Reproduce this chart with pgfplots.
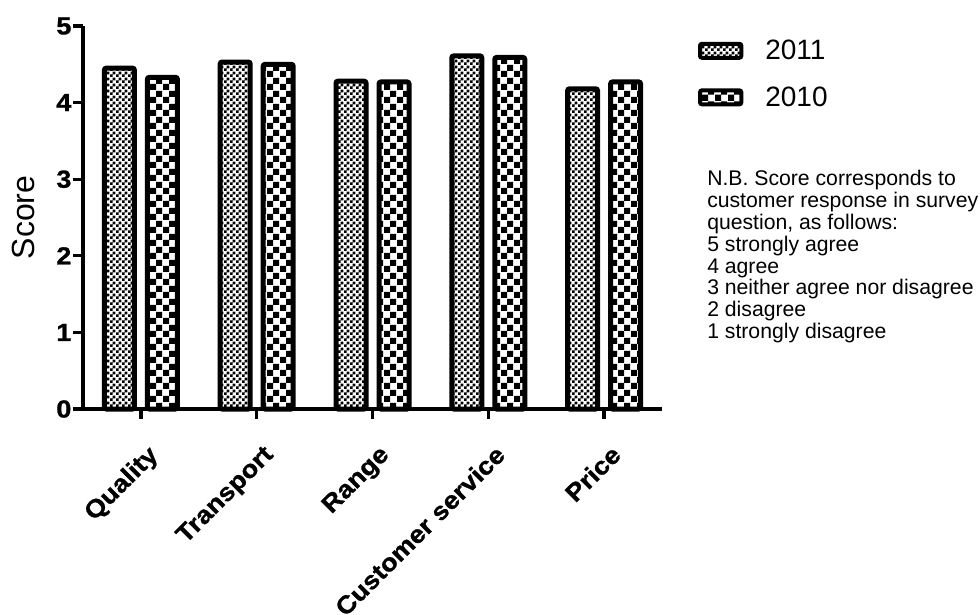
\documentclass[border=0pt]{standalone}
\usepackage{pgfplots}
\pgfplotsset{compat=1.18}
\usepackage{fontspec}
\setmainfont{Liberation Sans}
\newfontfamily\labelfont[FakeStretch=1.1, FakeBold=1]{Liberation Sans Bold}
\usetikzlibrary{patterns}

% small and large checkerboards of the two series
\pgfdeclarepatternformonly{fine checker}{\pgfqpoint{0bp}{0bp}}{\pgfqpoint{4.6bp}{4.6bp}}{\pgfqpoint{4.6bp}{4.6bp}}{%
  \pgfpathrectangle{\pgfqpoint{0bp}{0bp}}{\pgfqpoint{2.3bp}{2.3bp}}%
  \pgfpathrectangle{\pgfqpoint{2.3bp}{2.3bp}}{\pgfqpoint{2.3bp}{2.3bp}}%
  \pgfusepath{fill}}
\pgfdeclarepatternformonly{coarse checker}{\pgfqpoint{0bp}{0bp}}{\pgfqpoint{9.4bp}{9.4bp}}{\pgfqpoint{9.4bp}{9.4bp}}{%
  \pgfpathrectangle{\pgfqpoint{0bp}{0bp}}{\pgfqpoint{4.7bp}{4.7bp}}%
  \pgfpathrectangle{\pgfqpoint{4.7bp}{4.7bp}}{\pgfqpoint{4.7bp}{4.7bp}}%
  \pgfusepath{fill}}

\pgfplotstableread{
cat  y2011 y2010
0    4.45  4.33
1    4.53  4.50
2    4.28  4.27
3    4.61  4.59
4    4.18  4.27
}\scores

\begin{document}
\begin{tikzpicture}
\useasboundingbox (-62.25bp,-154.5bp) rectangle (672.75bp,306.75bp);
\begin{axis}[
    scale only axis,
    width=434.25bp, height=287.25bp,
    xmin=-0.5, xmax=4.5,
    ymin=0, ymax=5,
    clip=false,
    axis lines=left,
    axis line style={-, line width=2.5bp},
    ybar=9.75bp,
    bar width=22.5bp,
    xtick=data,
    xticklabels={Quality,Transport,Range,Customer service,Price},
    ytick={0,1,2,3,4,5},
    tick align=outside,
    major tick length=7.5bp,
    every tick/.style={black, line width=2.5bp},
    /pgf/number format/assume math mode=true,
    ticklabel style={font=\fontsize{18.5bp}{21bp}\labelfont},
    yticklabel style={inner xsep=1bp},
    xticklabel style={rotate=45, anchor=north east, inner sep=1bp, xshift=-9bp, yshift=-15bp},
    ylabel={\fontsize{24bp}{27bp}\selectfont Score},
    ylabel style={at={(axis description cs:-0.1036,0.5)}, anchor=center},
    legend style={at={(rel axis cs:1.0622,0.9634)}, anchor=north west, draw=none, fill=none,
        inner sep=0pt, outer sep=0pt,
        font=\fontsize{21bp}{24bp}\selectfont, row sep=18.75bp,
        nodes={inner sep=0pt},
        /tikz/every odd column/.append style={column sep=16.5bp}},
    legend cell align=left,
    legend image code/.code={\draw[#1, line width=3bp, rounded corners=1.5bp] (0bp,-5.25bp) rectangle (31bp,5.25bp);},
]
\addplot[draw=black, line width=3.75bp, rounded corners=1.5bp, pattern=fine checker] table[x=cat, y=y2011] {\scores};
\addplot[draw=black, line width=3.75bp, rounded corners=1.5bp, pattern=coarse checker] table[x=cat, y=y2010] {\scores};
\legend{2011,2010}
\node[anchor=north west, align=left, inner sep=0pt,
      font=\fontsize{15.9bp}{16.4bp}\selectfont]
  at (rel axis cs:1.0777,0.624)
  {N.B. Score corresponds to\\
   customer response in survey\\
   question, as follows:\\
   5 strongly agree\\
   4 agree\\
   3 neither agree nor disagree\\
   2 disagree\\
   1 strongly disagree};
\end{axis}
\end{tikzpicture}
\end{document}
